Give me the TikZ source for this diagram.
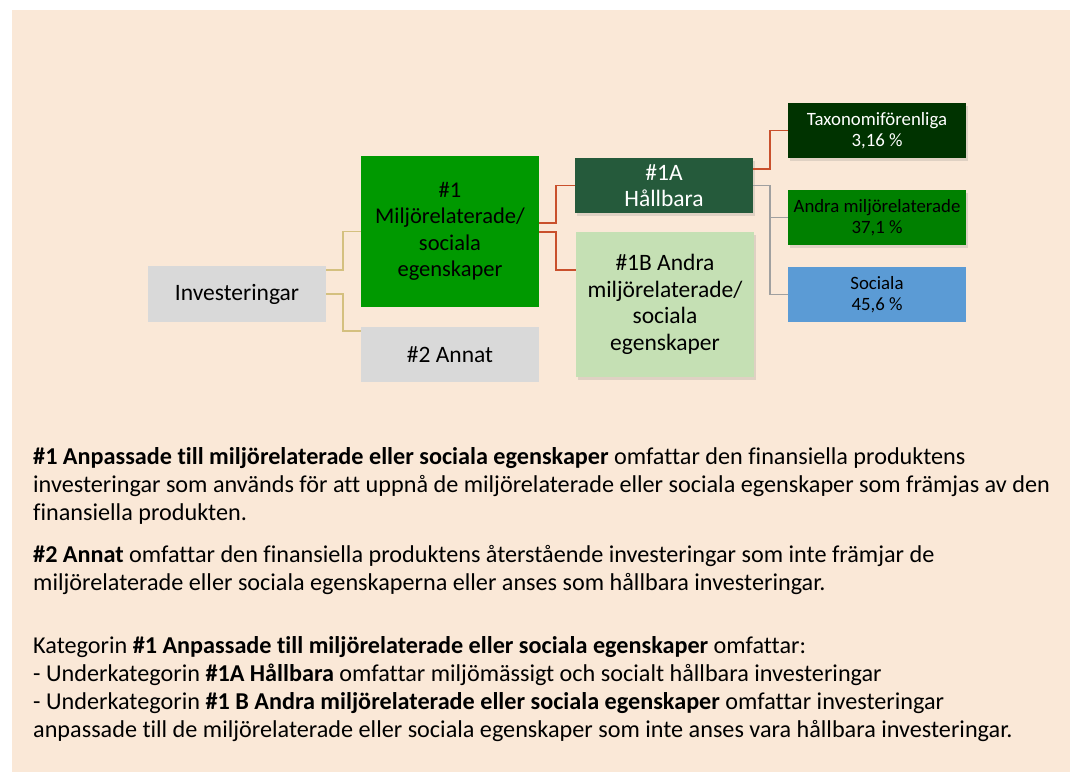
\documentclass[tikz,border=0pt]{standalone}
\usepackage{fontspec}
\setmainfont{Carlito}[Ligatures={NoCommon}]
\usetikzlibrary{shadows}
\definecolor{bgbeige}{HTML}{FAE8D7}
\definecolor{boxgray}{HTML}{D9D9D9}
\definecolor{greenA}{HTML}{009900}
\definecolor{greenHall}{HTML}{255A3B}
\definecolor{greenLight}{HTML}{C5E0B4}
\definecolor{greenDark}{HTML}{003300}
\definecolor{greenMid}{HTML}{008000}
\definecolor{blueSoc}{HTML}{5B9BD5}
\definecolor{tanline}{HTML}{D4C07F}
\definecolor{redline}{HTML}{C9502C}
\definecolor{grayline}{HTML}{A0A0A0}
\tikzset{
  box/.style={rectangle, draw=none, inner sep=0pt, minimum width=178pt, align=center, text=black},
  bigfont/.style={font=\fontsize{23.5}{26.5}\selectfont},
  midfont/.style={font=\fontsize{22.5}{26.5}\selectfont},
  smallfont/.style={font=\fontsize{18.8}{21.5}\selectfont},
  shad/.style={drop shadow={opacity=0.22, shadow xshift=2pt, shadow yshift=-3pt}},
  conn/.style={line width=1.8pt},
  txt/.style={anchor=base west, inner sep=0pt, font=\fontsize{24.2}{28}\selectfont}
}
\begin{document}
\begin{tikzpicture}[x=1pt,y=-1pt]
\useasboundingbox (0,0) rectangle (1071,772);
\fill[white] (0,0) rectangle (1071,772);
\fill[bgbeige] (12,10) rectangle (1070,772);

% nodes
\node[box, bigfont, fill=boxgray, minimum height=56pt] (inv) at (237,294) {Investeringar};
\node[box, midfont, fill=greenA, minimum height=151pt] (n1) at (450,231.5) {\#1\\Miljörelaterade/\\sociala\\egenskaper};
\node[box, bigfont, fill=boxgray, minimum height=55pt] (n2) at (450,354.5) {\#2 Annat};
\node[box, bigfont, fill=greenHall, text=white, minimum height=55pt, shad] (n1a) at (664,185.5) {\#1A\\Hållbara};
\node[box, bigfont, fill=greenLight, minimum height=145pt, shad] (n1b) at (665,304.5) {\#1B Andra\\miljörelaterade/\\sociala\\egenskaper};
\node[box, smallfont, fill=greenDark, text=white, minimum height=55pt, shad] (tax) at (877,130.5) {Taxonomiförenliga\\3,16 \%};
\node[box, smallfont, fill=greenMid, minimum height=55pt, shad] (andra) at (877,217.5) {Andra miljörelaterade\\37,1 \%};
\node[box, smallfont, fill=blueSoc, minimum height=55pt] (soc) at (877,294.5) {Sociala\\45,6 \%};

% connectors
\coordinate (b1) at (343,231.5);
\coordinate (b2) at (343,331);
\draw[conn, tanline] (inv.east |- 0,270) -| (b1) -- (n1.west);
\draw[conn, tanline] (inv.east) -| (b2) -- (n2.west |- b2);
\coordinate (r1) at (556,185.5);
\coordinate (r2) at (556,269.7);
\draw[conn, redline] (n1.east |- 0,222.7) -| (r1) -- (n1a.west);
\draw[conn, redline] (n1.east |- 0,231.7) -| (r2) -- (n1b.west |- r2);
\coordinate (t1) at (770,130.5);
\coordinate (g1) at (770,217.5);
\draw[conn, redline] (n1a.east |- 0,168.7) -| (t1) -- (tax.west);
\draw[conn, grayline] (n1a.east) -| (g1) -- (andra.west);
\draw[conn, grayline] (g1) |- (soc.west);

% text
\node[txt] (l1) at (33,464) {\textbf{\#1 Anpassade till miljörelaterade eller sociala egenskaper} omfattar den finansiella produktens};
\node[txt] (l2) at (33,492) {investeringar som används för att uppnå de miljörelaterade eller sociala egenskaper som främjas av den};
\node[txt] (l3) at (33,520) {finansiella produkten.};
\node[txt] (l4) at (33,562) {\textbf{\#2 Annat} omfattar den finansiella produktens återstående investeringar som inte främjar de};
\node[txt] (l5) at (33,590) {miljörelaterade eller sociala egenskaperna eller anses som hållbara investeringar.};
\node[txt] (l6) at (33,653) {Kategorin \textbf{\#1 Anpassade till miljörelaterade eller sociala egenskaper} omfattar:};
\node[txt] (l7) at (33,681) {- Underkategorin \textbf{\#1A Hållbara} omfattar miljömässigt och socialt hållbara investeringar};
\node[txt] (l8) at (33,709) {- Underkategorin \textbf{\#1 B Andra miljörelaterade eller sociala egenskaper} omfattar investeringar};
\node[txt] (l9) at (33,737) {anpassade till de miljörelaterade eller sociala egenskaper som inte anses vara hållbara investeringar.};
\end{tikzpicture}
\end{document}
